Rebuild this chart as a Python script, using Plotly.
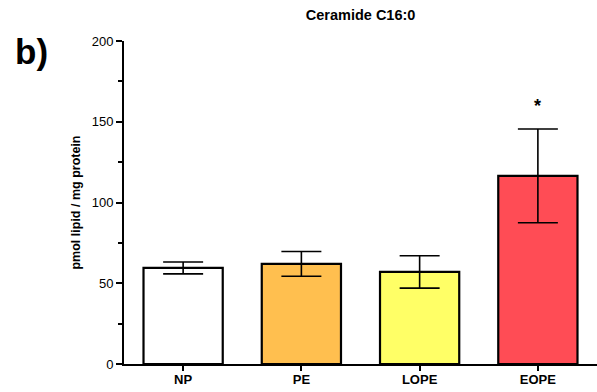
import plotly.graph_objects as go

# Ceramide C16:0 levels per group
groups = ["NP", "PE", "LOPE", "EOPE"]
means = [59.5, 62.0, 57.0, 116.5]
errors = [3.7, 7.7, 10.0, 29.0]
colors = ["#FFFFFF", "#FFBF4F", "#FFFF66", "#FF4C55"]
significant = ["", "", "", "*"]

FONT = "Arial, Liberation Sans, sans-serif"

fig = go.Figure()
fig.add_trace(go.Bar(
    x=groups,
    y=means,
    width=0.67,
    marker=dict(color=colors, line=dict(color="black", width=2.2)),
    error_y=dict(type="data", array=errors, visible=True,
                 color="black", thickness=1.6, width=20),
    showlegend=False,
))

# significance markers above the error bars
for g, m, e, s in zip(groups, means, errors, significant):
    if s:
        fig.add_annotation(x=g, y=m + e + 14, text=f"<b>{s}</b>", showarrow=False,
                           font=dict(family=FONT, size=18, color="black"))

fig.add_annotation(x=-0.156, y=0.966, xref="paper", yref="paper", xanchor="right", yanchor="middle",
                   text="<b>b)</b>", showarrow=False,
                   font=dict(family=FONT, size=35, color="black"))

fig.update_layout(
    width=597, height=392,
    margin=dict(l=124, r=0, t=41, b=28),
    paper_bgcolor="white", plot_bgcolor="white",
    bargap=0.33,
    title=dict(text="<b>Ceramide C16:0</b>", x=0.604, xanchor="center", y=0.962, yanchor="middle",
               font=dict(family=FONT, size=14.5, color="black")),
    font=dict(family=FONT, color="black"),
)
fig.update_xaxes(
    range=[-0.5, 3.5], showline=True, linecolor="black", linewidth=2,
    ticks="outside", ticklen=5, tickwidth=2, tickcolor="black", ticklabelstandoff=-3,
    tickfont=dict(family=FONT, size=13, color="black"),
    tickprefix="<b>", ticksuffix="</b>", showgrid=False, zeroline=False,
)
fig.update_yaxes(
    range=[0, 200], tickvals=[0, 50, 100, 150, 200], showline=True, linecolor="black", linewidth=2,
    ticks="outside", ticklen=6, tickwidth=2, tickcolor="black",
    tickfont=dict(family=FONT, size=13, color="black"),
    tickprefix="<b>", ticksuffix="</b>", showgrid=False, zeroline=False,
    minor=dict(tickvals=[25, 75, 125, 175], ticks="outside", ticklen=4, tickwidth=2, tickcolor="black"),
    title=dict(text="<b>pmol lipid / mg protein</b>", standoff=8,
               font=dict(family=FONT, size=12.5, color="black")),
)

fig.write_html("out.html")
